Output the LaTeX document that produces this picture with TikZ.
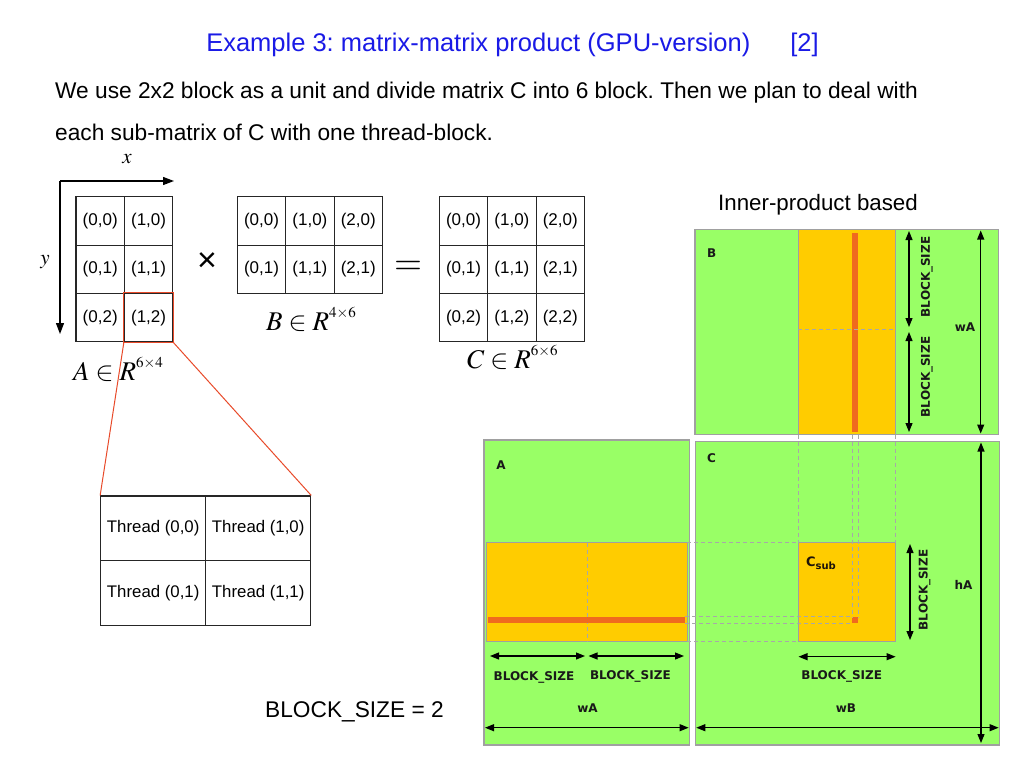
\documentclass[tikz,border=0pt]{standalone}
\usepackage{mathptmx}
\usepackage[no-math]{fontspec}
\setmainfont{Liberation Sans}
\newfontfamily\lblfont{DejaVu Sans}
\usetikzlibrary{arrows.meta}
\definecolor{mgreen}{HTML}{99FF66}
\definecolor{morange}{HTML}{FFCC00}
\definecolor{mstrip}{HTML}{F06A1E}
\definecolor{boxgrey}{HTML}{A0A0A0}
\definecolor{guidegrey}{HTML}{A8A8A8}
\definecolor{titleblue}{HTML}{1A1AE6}
\definecolor{zoomred}{HTML}{E84A2A}
\tikzset{
  cell/.style={draw=black!85, line width=1.1pt, minimum width=48.4pt, minimum height=48.4pt, inner sep=0pt, font=\fontsize{17}{17}\selectfont},
  tcell/.style={draw=black!85, line width=1.1pt, minimum width=105pt, minimum height=64.8pt, inner sep=0pt, font=\fontsize{16.8}{16.8}\selectfont},
  gbox/.style={fill=mgreen, draw=boxgrey, line width=1.2pt},
  obox/.style={fill=morange, draw=boxgrey, line width=1pt},
  stripbox/.style={fill=mstrip, draw=none},
  guide/.style={draw=guidegrey, line width=1pt, dash pattern=on 4pt off 3pt},
  dim/.style={black, line width=1.1pt, {Triangle[length=9pt,width=7pt]}-{Triangle[length=9pt,width=7pt]}},
  lbl/.style={font=\lblfont\bfseries\fontsize{12}{12}\selectfont, text=black!90, inner sep=0pt},
  axis/.style={line width=1.3pt, -{Triangle[length=11pt,width=8pt]}},
  bodytext/.style={font=\fontsize{22.7}{22.7}\selectfont, inner sep=0pt},
  mathlbl/.style={font=\fontsize{27}{27}\selectfont, inner sep=0pt},
}
\newcommand{\supsz}[1]{\raisebox{3pt}{\fontsize{15}{15}\selectfont $#1$}}
\begin{document}
\frenchspacing
\begin{tikzpicture}[x=1pt,y=-1pt]
\useasboundingbox[fill=white] (0,0) rectangle (1024,768);

% ---------- texts ----------
\node[font=\fontsize{25.5}{25.5}\selectfont, text=titleblue, inner sep=0pt] (title) at (512.5,45)
  {Example 3: matrix-matrix product (GPU-version)\hspace{40pt}[2]};
\node[bodytext, anchor=base west] (line1) at (55,98)
  {We use 2x2 block as a unit and divide matrix C into 6 block. Then we plan to deal with};
\node[bodytext, anchor=base west] (line2) at (55,140)
  {each sub-matrix of C with one thread-block.};

% ---------- axes ----------
\coordinate (ax0) at (60,181);
\coordinate (axx) at (174,181);
\coordinate (axy) at (60,334);
\draw[axis] (ax0) -- (axx);
\draw[axis] (ax0) -- (axy);
\node[font=\fontsize{21}{21}\selectfont\itshape, inner sep=0pt] (xlab) at (127,159) {$x$};
\node[font=\fontsize{21}{21}\selectfont\itshape, inner sep=0pt] (ylab) at (45,262) {$y$};

% ---------- matrix A ----------
\foreach \i in {0,1} \foreach \j in {0,1,2}
  \node[cell] (a-\i-\j) at ({76+24.2+48.4*\i},{196.7+24.2+48.4*\j}) {(\i,\j)};
\draw[zoomred, line width=1pt] (a-1-2.north west) rectangle (a-1-2.south east);
\node[mathlbl, anchor=base west] (Alab) at (73,380) {$A\in R^{\supsz{6{\times}4}}$};

\node[font=\fontsize{34}{34}\selectfont, inner sep=0pt] (times) at (207,262) {×};

% ---------- matrix B ----------
\foreach \i in {0,1,2} \foreach \j in {0,1}
  \node[cell] (b-\i-\j) at ({237.3+24.2+48.4*\i},{196.7+24.2+48.4*\j}) {(\i,\j)};
\node[mathlbl, anchor=base west] (Blab) at (266,330) {$B\in R^{\supsz{4{\times}6}}$};

\node[font=\fontsize{36}{36}\selectfont, inner sep=0pt] (eq) at (408,268) {$=$};

% ---------- matrix C ----------
\foreach \i in {0,1,2} \foreach \j in {0,1,2}
  \node[cell] (c-\i-\j) at ({439.3+24.2+48.4*\i},{196.7+24.2+48.4*\j}) {(\i,\j)};
\node[mathlbl, anchor=base west] (Clab) at (467,368) {$C\in R^{\supsz{6{\times}6}}$};

% ---------- thread block ----------
\foreach \i in {0,1} \foreach \j in {0,1}
  \node[tcell] (t-\i-\j) at ({100.7+52.5+105*\i},{496+32.4+64.8*\j}) {Thread (\i,\j)};
\draw[zoomred, line width=1pt] (a-1-2.south west) -- (t-0-0.north west);
\draw[zoomred, line width=1pt] (a-1-2.south east) -- (t-1-0.north east);

\node[bodytext, anchor=base west] (bs) at (265,717) {BLOCK\_SIZE = 2};

% ---------- right diagram ----------
\node[font=\fontsize{22.3}{22.3}\selectfont, inner sep=0pt] (inner) at (818,205) {Inner-product based};

% B
\draw[gbox] (695,229.3) rectangle (998.5,434.5);
\draw[obox] (798.4,229.3) rectangle (895.6,434.5);
\draw[stripbox] (852.2,232.5) rectangle (858.2,432);
\draw[guide] (798.4,329.5) -- (895.6,329.5);
\node[lbl] (Bname) at (711.7,253.3) {B};
\coordinate (bd1t) at (909,231);
\coordinate (bd1b) at (909,327);
\coordinate (bd2t) at (909,332);
\coordinate (bd2b) at (909,432);
\draw[dim] (bd1t) -- (bd1b);
\draw[dim] (bd2t) -- (bd2b);
\node[lbl, rotate=90] (bbs1) at (926.7,277) {BLOCK\_SIZE};
\node[lbl, rotate=90] (bbs2) at (926.7,377) {BLOCK\_SIZE};
\coordinate (bwat) at (980.7,230.5);
\coordinate (bwab) at (980.7,433.5);
\draw[dim] (bwat) -- (bwab);
\node[lbl] (bwa) at (965,327) {wA};

% A
\draw[gbox] (484,440) rectangle (689.6,745);
\draw[obox] (486.8,542.8) rectangle (687.2,641);
\draw[guide] (587.5,542.8) -- (587.5,641);
\draw[stripbox] (488,616.7) rectangle (685,623.3);
\node[lbl] (Aname) at (501,465) {A};
\coordinate (ad1l) at (490,656);
\coordinate (ad1r) at (585,656);
\coordinate (ad2l) at (588.5,656);
\coordinate (ad2r) at (684,656);
\draw[dim] (ad1l) -- (ad1r);
\draw[dim] (ad2l) -- (ad2r);
\node[lbl] (abs1) at (534,677) {BLOCK\_SIZE};
\node[lbl] (abs2) at (630.4,676) {BLOCK\_SIZE};
\node[lbl] (awa) at (587.5,708.3) {wA};
\coordinate (awal) at (485,727.7);
\coordinate (awar) at (688.6,727.7);
\draw[dim] (awal) -- (awar);

% C
\draw[gbox] (695.3,441.7) rectangle (999.6,745);
\draw[obox] (798.4,542.8) rectangle (895.6,641);
\draw[stripbox] (852.2,616.7) rectangle (858.2,623.3);
% guides
\draw[guide] (798.4,434.5) -- (798.4,542.8);
\draw[guide] (895.6,434.5) -- (895.6,542.8);
\draw[guide] (852.2,434.5) -- (852.2,616.7);
\draw[guide] (858.2,434.5) -- (858.2,616.7);
\draw[guide] (687.2,542.8) -- (798.4,542.8);
\draw[guide] (687.2,641) -- (798.4,641);
\draw[guide] (685,616.7) -- (852.2,616.7);
\draw[guide] (685,623.3) -- (852.2,623.3);
\node[lbl] (Cname) at (711.6,458.3) {C};
\node[font=\lblfont\bfseries\fontsize{13}{13}\selectfont, text=black!85!brown, inner sep=0pt] (csub) at (821,563.3)
  {C\raisebox{-3pt}{\fontsize{10}{10}\selectfont sub}};
\coordinate (cd1t) at (910,544);
\coordinate (cd1b) at (910,640);
\draw[dim] (cd1t) -- (cd1b);
\node[lbl, rotate=90] (cbs) at (924.6,590) {BLOCK\_SIZE};
\coordinate (chat) at (981,442.5);
\coordinate (chab) at (981,743);
\draw[dim] (chat) -- (chab);
\node[lbl] (cha) at (963.4,585) {hA};
\coordinate (cd2l) at (798.5,656.7);
\coordinate (cd2r) at (895.6,656.7);
\draw[dim] (cd2l) -- (cd2r);
\node[lbl] (cbs2) at (841.7,676.7) {BLOCK\_SIZE};
\node[lbl] (cwb) at (846,708.3) {wB};
\coordinate (cwbl) at (696.3,727.7);
\coordinate (cwbr) at (998.6,727.7);
\draw[dim] (cwbl) -- (cwbr);
\end{tikzpicture}
\end{document}
